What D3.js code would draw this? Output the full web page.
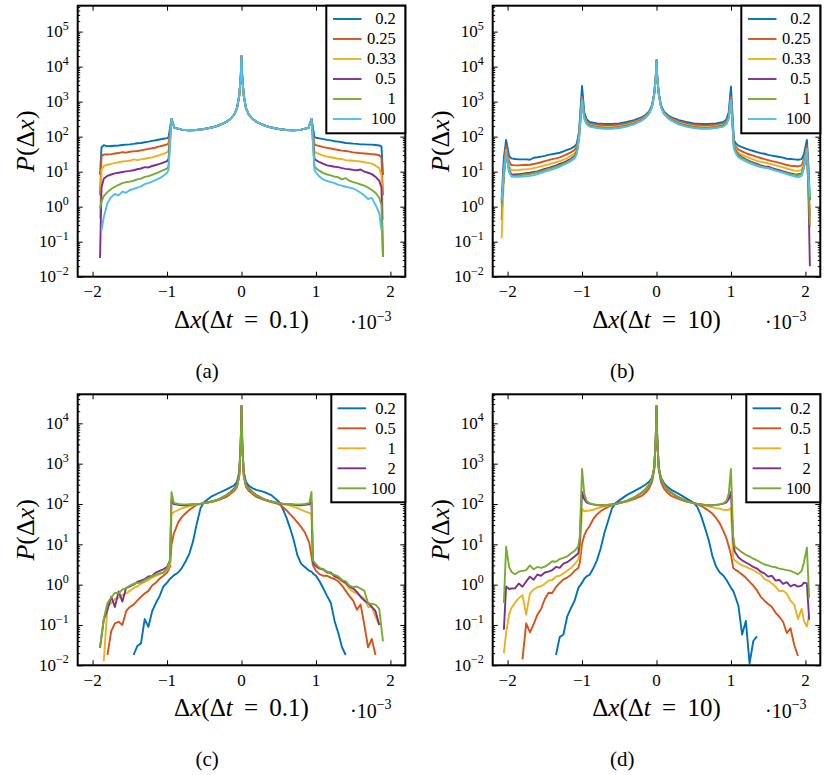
<!DOCTYPE html>
<html>
<head>
<meta charset="utf-8">
<script src="https://cdn.jsdelivr.net/npm/d3@7"></script>
<style>
  body { margin: 0; background: #fff; }
</style>
</head>
<body>
<svg id="fig" width="830" height="775" font-family="Liberation Serif"></svg>
<script>
// ---- panel (a) : dt = 0.1, six curves sharing the same centre ----
var xA = [-1.9, -1.88, -1.85, -1.8, -1.75, -1.7, -1.65, -1.6, -1.55, -1.5, -1.45, -1.4, -1.35, -1.3, -1.25, -1.2, -1.15, -1.1, -1.05, -1.0, -0.98,
  -0.94, -0.9, -0.8, -0.7, -0.6, -0.5, -0.4, -0.3, -0.2, -0.15, -0.1, -0.06, -0.03, -0.01, 0, 0.01, 0.03, 0.06, 0.1, 0.15, 0.2, 0.3, 0.4, 0.5, 0.6, 0.7, 0.8, 0.9, 0.94,
  0.98, 1.0, 1.05, 1.1, 1.15, 1.2, 1.25, 1.3, 1.35, 1.4, 1.45, 1.5, 1.55, 1.6, 1.65, 1.7, 1.75, 1.8, 1.85, 1.88, 1.9];
var peakA = [320, 178, 158, 152, 155, 165, 182, 212, 265, 320, 420, 650, 1500, 5000, 20000, 5000, 1500, 650, 420, 320, 265, 212, 182, 165, 155, 152, 158, 178, 320];
var a1 = [8.1, 50, 57, 53, 54, 55, 56, 57.5, 59, 60, 62, 65, 66, 69, 72, 76, 79, 83, 87, 91, 95, ...peakA,
  98, 93, 89, 85, 81, 78, 74, 72, 69, 66, 65, 63, 62, 60, 60, 59, 59, 57.5, 56, 52.5, 8.1];
var a2 = [2.1, 27.5, 31, 31, 31.6, 33, 34, 36, 35, 37, 38, 39, 40.7, 42.7, 44.7, 46.8, 49, 52.5, 56, 60, 65, ...peakA,
  60, 57.5, 53.7, 50, 47.9, 45.7, 43.7, 41.7, 39.8, 38.9, 37.2, 35.5, 34.7, 33.9, 33.1, 32.4, 31.6, 30.9, 29.5, 25.1, 2.1];
var a3 = [0.47, 11.2, 14.5, 15.8, 16.6, 17.8, 18.6, 19.5, 20, 20.4, 22.4, 21.4, 22.4, 23.4, 24.5, 25.7, 27.5, 29.5, 32.4, 35.5, 40, ...peakA,
  37, 34.7, 31.6, 28.8, 26.9, 25.7, 24.5, 23.4, 22.9, 21.4, 20.9, 20.4, 20, 19.5, 18.6, 17.8, 17, 14.8, 12.6, 7.9, 0.42];
var a4 = [0.034, 3.5, 6.3, 7.6, 8.3, 8.9, 9.3, 9.8, 10.2, 10.5, 11, 11.7, 12.3, 13.5, 13.2, 14.5, 15.5, 16.6, 18.2, 20, 23, ...peakA,
  23, 21.4, 18.6, 16.6, 15.1, 14.5, 13.8, 13.5, 12.6, 12, 11.7, 11.2, 11, 11.5, 10, 9.3, 8.5, 7.1, 5.5, 3.5, 0.037];
var a5 = [0.9, 1.4, 2.0, 2.6, 3.2, 3.7, 4.2, 4.7, 5.0, 5.2, 5.5, 6.0, 6.3, 7.1, 7.4, 8.1, 8.9, 9.8, 11, 12.3, 14.5, ...peakA,
  14.5, 12.6, 10.5, 9.1, 8.3, 7.8, 7.2, 6.9, 6.0, 6.5, 5.5, 5.0, 4.7, 4.3, 4.0, 3.5, 3.0, 2.5, 1.8, 1.1, 0.037];
var a6 = [null, 0.21, 0.5, 1.3, 1.9, 2.3, 2.1, 2.7, 2.5, 3.0, 3.2, 3.5, 3.8, 4.4, 4.7, 5.2, 5.8, 6.5, 7.6, 9.1, 11.2, ...peakA,
  11.2, 9.5, 7.1, 6.0, 5.4, 5.0, 4.7, 4.2, 4.0, 3.7, 3.5, 3.3, 2.9, 2.5, 2.1, 1.66, 1.78, 1.12, 0.66, 0.21, null];

// ---- panel (b) : dt = 10 ----
var xB = [-2.08, -2.05, -2.02, -1.98, -1.95, -1.9, -1.85, -1.8, -1.75, -1.7, -1.65, -1.6, -1.55, -1.5, -1.45, -1.4, -1.35, -1.3, -1.25, -1.2, -1.15, -1.1, -1.07, -1.04,
  -1.0, -0.97, -0.94, -0.9, -0.8, -0.7, -0.6, -0.5, -0.4, -0.3, -0.2, -0.15, -0.1, -0.06, -0.03, -0.01, 0, 0.01, 0.03, 0.06, 0.1, 0.15, 0.2, 0.3, 0.4, 0.5, 0.6, 0.7, 0.8, 0.9, 0.94, 0.97, 1.0,
  1.04, 1.07, 1.1, 1.15, 1.2, 1.25, 1.3, 1.35, 1.4, 1.45, 1.5, 1.55, 1.6, 1.65, 1.7, 1.75, 1.8, 1.85, 1.9, 1.95, 1.98, 2.02, 2.04, 2.06];
var b1 = [1.55, 25, 81, 28, 24, 23, 22.4, 22.4, 22.4, 21.9, 25, 25.7, 26.9, 28.2, 30.2, 31.6, 33.1, 34.7, 38, 41.7, 45.7, 52.5, 63, 141,
  2800, 500, 316, 263, 240, 229, 229, 240, 263, 295, 355, 417, 525, 794, 1780, 5000, 15500, 5000, 1780, 794, 525, 417, 355, 295, 263, 240, 229, 229, 240, 263, 316, 500, 2700,
  79, 63, 55, 50, 45.7, 41.7, 38.9, 36.3, 33.9, 32.4, 30.2, 28.8, 27.5, 26.3, 25.1, 23.4, 22.9, 22.4, 21.9, 22.9, 31.6, 81, 15.8, 1.55];
var b2 = [0.42, 15.8, 56, 20, 15.5, 15.1, 15.1, 15.5, 15.5, 15.8, 16.6, 17.4, 18.6, 20, 21.4, 22.9, 24, 25.7, 28.2, 31.6, 35.5, 41.7, 50, 126,
  1380, 400, 280, 240, 219, 209, 209, 219, 240, 270, 330, 390, 500, 760, 1750, 5000, 15000, 5000, 1750, 760, 500, 390, 330, 270, 240, 219, 209, 209, 219, 240, 280, 400, 1400,
  65, 50, 42.7, 38, 33.9, 30.9, 28.8, 26.3, 24.5, 22.9, 21.4, 20, 19.1, 17.8, 16.6, 15.5, 14.8, 14.5, 14.1, 15.1, 22.4, 56, 10, 0.51];
var b3 = [0.126, 7.9, 42, 14.1, 11.2, 11, 11.2, 11.5, 11.7, 12, 12.6, 13.2, 14.1, 15.1, 16.2, 17.4, 18.6, 20, 21.9, 24.5, 28.2, 33.1, 41.7, 112,
  1260, 370, 260, 220, 200, 190, 190, 200, 220, 250, 310, 370, 480, 740, 1700, 4900, 14500, 4900, 1700, 740, 480, 370, 310, 250, 220, 200, 190, 190, 200, 220, 260, 370, 1260,
  58, 41.7, 34.7, 30.2, 26.9, 24.5, 22.4, 20.4, 19.1, 18.2, 17.4, 16.2, 15.1, 14.1, 13.2, 12.3, 11.5, 10.7, 10.5, 11.2, 17.8, 44.7, 4.0, 0.25];
var b4 = [1.26, 7.9, 35.5, 11.2, 8.5, 8.3, 8.5, 8.7, 9.1, 9.3, 9.8, 10.2, 11, 12, 12.9, 13.8, 14.8, 16.6, 18.2, 20.4, 23.4, 28.2, 37, 100,
  1200, 350, 245, 205, 187, 178, 178, 187, 205, 235, 295, 355, 460, 720, 1680, 4800, 14500, 4800, 1680, 720, 460, 355, 295, 235, 205, 187, 178, 178, 187, 205, 245, 350, 1200,
  52, 37, 30.2, 25.7, 22.4, 20, 18.2, 16.6, 15.1, 14.1, 13.8, 12.6, 11.7, 11, 10.2, 9.5, 8.9, 8.5, 8.3, 8.9, 14.1, 40, 3.2, 0.02];
var b5 = [1.0, 7.5, 33, 10, 7.8, 7.6, 7.8, 8.1, 8.3, 8.5, 9.1, 9.5, 10.2, 11, 12, 12.9, 13.8, 15.1, 16.6, 18.6, 21.9, 26.3, 34.7, 95,
  1150, 340, 240, 200, 182, 174, 174, 182, 200, 230, 290, 350, 455, 710, 1670, 4800, 14500, 4800, 1670, 710, 455, 350, 290, 230, 200, 182, 174, 174, 182, 200, 240, 340, 1150,
  50, 34.7, 28.2, 24, 21.4, 19.1, 17, 15.5, 14.1, 13.2, 12.6, 11.7, 11, 10.2, 9.5, 8.9, 8.3, 8.1, 7.8, 8.5, 13.2, 38, 4, 0.3];
var b6 = [1.55, 10, 35.5, 10, 7.2, 7.1, 7.1, 7.2, 7.4, 7.6, 7.9, 8.5, 9.1, 10, 10.7, 11.5, 12.6, 13.8, 15.5, 17.4, 20, 24, 31.6, 89,
  1120, 330, 230, 195, 176, 168, 168, 176, 195, 225, 285, 345, 450, 700, 1660, 4800, 14500, 4800, 1660, 700, 450, 345, 285, 225, 195, 176, 168, 168, 176, 195, 230, 330, 1120,
  45, 31.6, 25.7, 22.4, 19.5, 17.4, 15.8, 14.5, 13.5, 12.9, 12.6, 11.7, 10.7, 10, 9.3, 8.5, 7.8, 7.4, 6.9, 7.6, 12.6, 42, 8, 1.9];

// ---- panel (c) : dt = 0.1 ----
var xC = [-1.9, -1.85, -1.8, -1.75, -1.7, -1.65, -1.6, -1.55, -1.5, -1.45, -1.4, -1.35, -1.3, -1.25, -1.2, -1.15, -1.1, -1.05, -1.0,
  -0.96, -0.94, -0.91, -0.85, -0.8, -0.75, -0.7, -0.65, -0.6, -0.55, -0.5, -0.4, -0.3, -0.2, -0.15, -0.1, -0.06, -0.03, -0.01, 0,
  0.01, 0.03, 0.06, 0.1, 0.15, 0.2, 0.3, 0.4, 0.5, 0.55, 0.6, 0.65, 0.7, 0.75, 0.8, 0.85, 0.91, 0.94, 0.96,
  1.0, 1.05, 1.1, 1.15, 1.2, 1.25, 1.3, 1.35, 1.4, 1.45, 1.5, 1.55, 1.6, 1.65, 1.7, 1.75, 1.8, 1.85, 1.9];
var c1 = [null, null, null, null, null, null, null, null, null, 0.018, 0.03, 0.035, 0.14, 0.09, 0.22, 0.35, 0.52, 0.9, 1.12,
  1.4, 1.5, 1.7, 2.0, 2.6, 3.8, 5.9, 12, 33, 79, 112, 155, 190, 230, 257, 288, 355, 630, 3200, 27000,
  3200, 630, 355, 282, 245, 224, 200, 166, 115, 79, 48, 26, 13, 5.4, 3.3, 2.75, 2.2, 2.1, 1.9,
  1.66, 1.2, 0.8, 0.52, 0.35, 0.126, 0.063, 0.028, 0.018, null, null, null, null, null, null, null, null, null, null];
var c2 = [null, null, 0.018, 0.07, 0.11, 0.12, 0.1, 0.22, 0.28, 0.32, 0.4, 0.5, 0.6, 0.7, 0.95, 1.12, 1.4, 1.66, 2.0,
  2.8, 10, 18, 35, 48, 59, 71, 83, 96, 100, 105, 112, 126, 150, 178, 209, 263, 500, 3200, 27000,
  3200, 500, 263, 209, 178, 150, 126, 112, 100, 85, 71, 56, 45, 35, 27, 20, 11, 5.0, 3.0,
  2.2, 1.8, 1.66, 1.66, 1.5, 1.38, 1.2, 0.95, 0.7, 0.52, 0.4, 0.24, 0.32, 0.1, 0.028, 0.045, 0.018, null, null];
var c3 = [null, 0.0126, 0.29, 0.35, 0.44, 0.47, 0.56, 0.6, 0.7, 0.83, 0.9, 1.05, 1.17, 1.3, 1.5, 1.65, 1.8, 2.0, 2.3,
  3.2, 56, 63, 71, 78, 83, 89, 93, 98, 100, 105, 115, 132, 165, 195, 235, 295, 560, 3200, 27000,
  3200, 560, 295, 235, 195, 165, 132, 115, 105, 100, 96, 91, 85, 79, 72, 66, 60, 56, 3.5,
  2.8, 2.5, 2.3, 2.1, 1.86, 1.66, 1.4, 1.2, 1.05, 0.8, 0.66, 0.6, 0.52, 0.45, 0.28, 0.28, 0.16, 0.1, null];
var c4 = [0.027, 0.135, 0.24, 0.5, 0.28, 0.68, 0.38, 0.83, 0.9, 1.0, 1.17, 1.26, 1.38, 1.6, 1.65, 2.0, 2.2, 2.4, 2.75,
  4.0, 126, 100, 96, 93, 93, 96, 98, 100, 102, 105, 115, 132, 166, 195, 240, 295, 560, 3200, 27000,
  3200, 560, 295, 240, 195, 166, 132, 115, 105, 102, 100, 98, 96, 93, 93, 96, 98, 112, 3.5,
  2.9, 2.5, 2.4, 2.0, 2.0, 1.6, 1.5, 1.26, 1.12, 0.9, 0.8, 0.66, 0.5, 0.4, 0.35, 0.28, 0.22, 0.1, null];
var c5 = [0.028, 0.14, 0.35, 0.48, 0.63, 0.6, 0.76, 0.8, 0.95, 1.05, 1.1, 1.12, 1.3, 1.45, 1.6, 1.8, 1.9, 2.0, 2.5,
  4.0, 200, 107, 100, 98, 98, 98, 100, 100, 102, 105, 115, 132, 165, 190, 230, 280, 500, 3200, 27000,
  3200, 500, 280, 230, 190, 165, 132, 115, 105, 102, 100, 100, 98, 98, 98, 100, 105, 200, 4.0,
  3.2, 2.6, 2.4, 2.1, 1.9, 1.74, 1.6, 1.3, 1.2, 0.95, 0.87, 0.9, 0.8, 0.7, 0.35, 0.33, 0.32, 0.25, 0.039];

// ---- panel (d) : dt = 10 ----
var xD = [-2.05, -2.02, -1.98, -1.95, -1.9, -1.85, -1.8, -1.75, -1.7, -1.65, -1.6, -1.55, -1.5, -1.45, -1.4, -1.35, -1.3, -1.25, -1.2, -1.15, -1.1, -1.05,
  -1.03, -1.0, -0.97, -0.94, -0.9, -0.85, -0.8, -0.75, -0.7, -0.65, -0.6, -0.55, -0.5, -0.4, -0.3, -0.2, -0.15, -0.1, -0.06, -0.03, -0.01, 0,
  0.01, 0.03, 0.06, 0.1, 0.15, 0.2, 0.3, 0.4, 0.5, 0.55, 0.6, 0.65, 0.7, 0.75, 0.8, 0.85, 0.9, 0.94, 0.97, 1.0, 1.03,
  1.05, 1.1, 1.15, 1.2, 1.25, 1.3, 1.35, 1.4, 1.45, 1.5, 1.55, 1.6, 1.65, 1.7, 1.75, 1.8, 1.85, 1.9, 1.95, 1.98, 2.02, 2.05];
var d1 = [null, null, null, null, null, null, null, null, null, null, null, null, null, null, null, 0.018, 0.05, 0.058, 0.16, 0.26, 0.4, 0.83,
  0.93, 1.12, 1.4, 1.6, 1.74, 2.5, 4.0, 7.9, 19, 38, 76, 105, 123, 166, 209, 263, 300, 355, 447, 800, 4000, 27000,
  4000, 800, 447, 330, 263, 224, 178, 138, 107, 83, 50, 26, 13, 5.2, 2.8, 2.0, 1.66, 1.3, 1.05, 0.83, 0.7,
  0.56, 0.3, 0.058, 0.126, 0.011, 0.04, 0.052, null, null, null, null, null, null, null, null, null, null, null, null, null, null, null];
var d2 = [null, null, null, null, null, null, 0.014, 0.11, 0.066, 0.105, 0.18, 0.25, 0.44, 0.63, 0.62, 0.87, 1.1, 1.35, 1.5, 1.74, 2.2, 2.6,
  3.5, 10.5, 16.6, 22, 28, 42, 55, 66, 76, 85, 93, 100, 107, 115, 132, 158, 190, 240, 355, 710, 4000, 27000,
  4000, 710, 355, 240, 190, 158, 132, 115, 105, 98, 89, 79, 68, 58, 45, 33, 21, 14, 8.9, 5.6, 2.6,
  2.4, 2.1, 1.78, 1.48, 1.17, 0.95, 0.72, 0.5, 0.4, 0.33, 0.28, 0.2, 0.16, 0.12, 0.063, 0.083, 0.032, 0.017, null, null, null, null];
var d3v = [0.02, 0.063, 0.18, 0.26, 0.36, 0.46, 0.55, 0.18, 0.6, 0.76, 0.87, 0.91, 1.05, 1.26, 1.3, 1.6, 1.66, 1.9, 2.2, 2.6, 3.2, 4.2,
  6.3, 76, 66, 68, 69, 72, 78, 83, 87, 91, 96, 100, 105, 117, 141, 186, 224, 288, 400, 800, 4000, 27000,
  4000, 800, 400, 288, 224, 186, 141, 117, 105, 100, 96, 91, 87, 83, 79, 76, 72, 71, 72, 79, 4.6,
  4.0, 3.4, 3.0, 2.8, 2.5, 2.3, 2.0, 1.8, 1.38, 1.26, 1.07, 0.89, 0.68, 0.71, 0.6, 0.4, 0.32, 0.14, 0.25, 0.126, 0.091, 0.19];
var d4 = [0.076, 0.9, 0.78, 0.8, 0.81, 1.07, 0.89, 1.2, 1.58, 1.32, 1.78, 1.66, 2.0, 2.1, 2.3, 2.75, 2.6, 3.3, 3.6, 4.2, 5.0, 6.0,
  12.6, 200, 132, 110, 102, 98, 95, 93, 93, 95, 98, 100, 105, 120, 145, 190, 230, 295, 400, 800, 4000, 27000,
  4000, 800, 400, 295, 229, 190, 145, 120, 105, 100, 98, 95, 93, 93, 95, 98, 102, 110, 132, 200, 12.6,
  6.6, 4.8, 4.0, 3.55, 3.16, 2.75, 2.5, 2.1, 1.9, 1.58, 1.66, 1.26, 1.32, 1.05, 1.15, 0.91, 1.0, 0.89, 0.95, 1.12, 1.07, 0.135];
var d5 = [0.35, 8.7, 2.8, 2.1, 1.8, 2.1, 2.2, 2.3, 3.0, 2.4, 2.75, 2.6, 2.8, 3.2, 3.8, 3.7, 4.3, 4.6, 5.0, 5.9, 6.9, 8.9,
  16, 740, 178, 120, 105, 98, 93, 93, 93, 96, 98, 100, 105, 120, 145, 190, 230, 300, 420, 800, 4000, 27000,
  4000, 800, 420, 300, 229, 190, 145, 120, 105, 100, 98, 95, 93, 93, 95, 98, 105, 120, 178, 740, 16,
  8.9, 7.4, 6.3, 5.5, 5.0, 4.4, 4.0, 3.55, 3.16, 3.0, 2.8, 2.7, 2.5, 2.4, 2.3, 2.2, 2.0, 1.8, 2.2, 3.55, 8.3, 0.46];

// legends, ticks
var namesAB = ["0.2", "0.25", "0.33", "0.5", "1", "100"];
var namesCD = ["0.2", "0.5", "1", "2", "100"];
var colorsAB = ["#0072BD", "#D95319", "#EDB120", "#7E2F8E", "#77AC30", "#4DBEEE"];
var colorsCD = ["#0072BD", "#D95319", "#EDB120", "#7E2F8E", "#77AC30"];
var xTicks = [-2, -1, 0, 1, 2];
var decadesAB = [-2, -1, 0, 1, 2, 3, 4, 5];
var decadesCD = [-2, -1, 0, 1, 2, 3, 4];

var FONT = '"Liberation Serif"';
var svg = d3.select("#fig");
var W = 327.6, H = 271;
var minus = function(n){ return n < 0 ? "\u2212" + (-n) : "" + n; };

var panels = [
  {tag: "a", left: 77.7, top: 5.7, yMax: Math.pow(10, 5.74), xs: xA, series: [a1, a2, a3, a4, a5, a6], colors: colorsAB, names: namesAB, decades: decadesAB, dt: "0.1", legW: 79, legH: 127.6, row0: 13.3, lineX: 6.7},
  {tag: "b", left: 492.7, top: 5.7, yMax: Math.pow(10, 5.74), xs: xB, series: [b1, b2, b3, b4, b5, b6], colors: colorsAB, names: namesAB, decades: decadesAB, dt: "10", legW: 79, legH: 127.6, row0: 13.3, lineX: 6.7},
  {tag: "c", left: 77.7, top: 394.3, yMax: Math.pow(10, 4.72), xs: xC, series: [c1, c2, c3, c4, c5], colors: colorsCD, names: namesCD, decades: decadesCD, dt: "0.1", legW: 74, legH: 108, row0: 14, lineX: 6.3},
  {tag: "d", left: 492.7, top: 394.3, yMax: Math.pow(10, 4.72), xs: xD, series: [d1, d2, d3v, d4, d5], colors: colorsCD, names: namesCD, decades: decadesCD, dt: "10", legW: 74, legH: 108, row0: 14, lineX: 6.3}
];

panels.forEach(function(p) {
  var g = svg.append("g").attr("transform", "translate(" + p.left + "," + p.top + ")");
  var x = d3.scaleLinear().domain([-2.2, 2.2]).range([0, W]);
  var y = d3.scaleLog().domain([1e-2, p.yMax]).range([H, 0]);

  g.append("clipPath").attr("id", "clip-" + p.tag)
    .append("rect").attr("width", W).attr("height", H);

  // x ticks inside, bottom and top; labels drawn separately
  var xb = g.append("g").attr("transform", "translate(0," + H + ")")
    .call(d3.axisBottom(x).tickValues(xTicks).tickSize(-5).tickFormat(""));
  xb.select(".domain").remove();
  var xt = g.append("g").call(d3.axisTop(x).tickValues(xTicks).tickSize(-5).tickFormat(""));
  xt.select(".domain").remove();
  g.selectAll(".xlab").data(xTicks).enter().append("text")
    .attr("class", "xlab")
    .attr("x", function(v){ return x(v); })
    .attr("y", H + 20.5)
    .attr("text-anchor", "middle")
    .attr("font-size", 17)
    .style("font-family", FONT)
    .text(minus);

  // y ticks: majors and log minors on both sides
  var minor = y.ticks().filter(function(v){ return Math.abs(Math.log10(v) - Math.round(Math.log10(v))) > 1e-6; });
  var majors = p.decades.map(function(e){ return Math.pow(10, e); });
  [[d3.axisLeft, 0], [d3.axisRight, W]].forEach(function(side) {
    var s1 = g.append("g").attr("transform", "translate(" + side[1] + ",0)")
      .call(side[0](y).tickValues(majors).tickSize(-5).tickFormat(""));
    s1.select(".domain").remove();
    var s2 = g.append("g").attr("transform", "translate(" + side[1] + ",0)")
      .call(side[0](y).tickValues(minor).tickSize(-2.5).tickFormat(""));
    s2.select(".domain").remove();
  });

  // y labels 10^n
  var yl = g.selectAll(".ylab").data(p.decades).enter().append("text")
    .attr("class", "ylab")
    .attr("x", -9)
    .attr("y", function(e){ return y(Math.pow(10, e)) + 5.5; })
    .attr("text-anchor", "end")
    .attr("font-size", 17)
    .style("font-family", FONT);
  yl.append("tspan").text("10");
  yl.append("tspan").attr("dy", -7.5).attr("font-size", 12).text(function(e){ return minus(e); });

  // curves
  var lines = g.append("g").attr("clip-path", "url(#clip-" + p.tag + ")");
  p.series.forEach(function(vals, k) {
    var pts = p.xs.map(function(v, i){ return [v, vals[i]]; });
    var line = d3.line()
      .defined(function(d){ return d[1] != null; })
      .x(function(d){ return x(d[0]); })
      .y(function(d){ return y(d[1]); });
    lines.append("path").datum(pts)
      .attr("d", line)
      .attr("fill", "none")
      .attr("stroke", p.colors[k])
      .attr("stroke-width", 1.9)
      .attr("stroke-linejoin", "round");
  });

  // frame
  g.append("rect").attr("width", W).attr("height", H)
    .attr("fill", "none").attr("stroke", "#000").attr("stroke-width", 2);

  // legend
  var lg = g.append("g").attr("transform", "translate(" + (W - p.legW) + ",0)");
  lg.append("rect").attr("width", p.legW).attr("height", p.legH)
    .attr("fill", "#fff").attr("stroke", "#000").attr("stroke-width", 2);
  p.names.forEach(function(nm, i) {
    var ry = p.row0 + i * 20;
    lg.append("line").attr("x1", p.lineX).attr("x2", p.lineX + 28.5)
      .attr("y1", ry).attr("y2", ry)
      .attr("stroke", p.colors[i]).attr("stroke-width", 1.9);
    lg.append("text").attr("x", p.legW - 9.5).attr("y", ry + 5.5)
      .attr("text-anchor", "end").attr("font-size", 16.5)
      .style("font-family", FONT).text(nm);
  });

  // axis titles
  var xtl = g.append("text").attr("x", x(0)).attr("y", H + 51)
    .attr("text-anchor", "middle").attr("font-size", 25).style("font-family", FONT);
  xtl.append("tspan").text("\u0394");
  xtl.append("tspan").attr("font-style", "italic").text("x");
  xtl.append("tspan").text("(\u0394");
  xtl.append("tspan").attr("font-style", "italic").text("t");
  xtl.append("tspan").attr("dx", 5).text(" = ");
  xtl.append("tspan").attr("dx", 5).text(p.dt + ")");

  var sc = g.append("text").attr("x", 272.3).attr("y", H + 52.5)
    .attr("font-size", 20).style("font-family", FONT);
  sc.append("tspan").text("\u00B710");
  sc.append("tspan").attr("dy", -8.5).attr("font-size", 14).text("\u22123");

  var ytl = g.append("text")
    .attr("transform", "translate(-44," + (H / 2) + ") rotate(-90)")
    .attr("text-anchor", "middle").attr("font-size", 26).style("font-family", FONT);
  ytl.append("tspan").attr("font-style", "italic").text("P");
  ytl.append("tspan").text("(\u0394");
  ytl.append("tspan").attr("font-style", "italic").text("x");
  ytl.append("tspan").text(")");

  // caption
  g.append("text").attr("x", 129.5).attr("y", H + 101)
    .attr("text-anchor", "middle").attr("font-size", 21)
    .style("font-family", FONT).text("(" + p.tag + ")");
});
</script>
</body>
</html>
